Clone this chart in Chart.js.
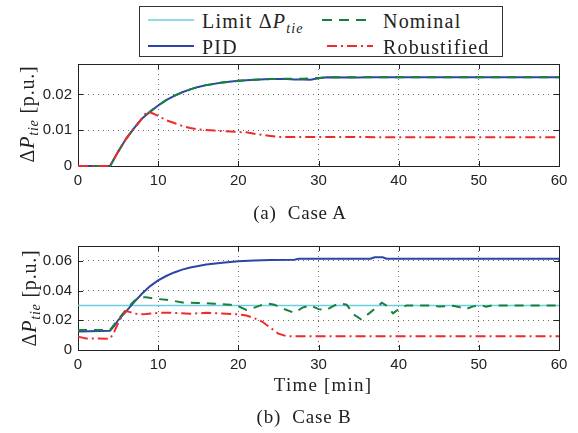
<!DOCTYPE html>
<html>
<head>
<meta charset="utf-8">
<script src="https://cdn.jsdelivr.net/npm/chart.js@4.4.1/dist/chart.umd.min.js"></script>
<style>
  body { margin: 0; background: #fff; width: 578px; height: 433px; position: relative; overflow: hidden;
         font-family: "Liberation Serif", serif; font-weight: 400; color: #222; }
  .abs { position: absolute; }
  canvas { position: absolute; left: 0; }
  .serif { font-family: "Liberation Serif", serif; font-weight: 400; }
  .ylab { position: absolute; white-space: nowrap; font-size: 20px; letter-spacing: 0.8px; transform: translate(-50%, -50%) rotate(-90deg); }
  .cap { position: absolute; white-space: nowrap; transform: translate(-50%, -50%); }
  sub { font-size: 0.7em; vertical-align: -0.35em; line-height: 0; }
  #legend { left: 139px; top: 6px; width: 362px; height: 49px; border: 1px solid #333; background: #fff; z-index: 2; font-size: 20px; }
  .item { position: absolute; white-space: nowrap; line-height: 1; transform: translateY(-50%); letter-spacing: 1.2px; }
  .sample { position: absolute; }
</style>
</head>
<body>

<canvas id="caseA" width="578" height="200" style="top:0"></canvas>
<canvas id="caseB" width="578" height="233" style="top:200px"></canvas>

<div id="legend" class="abs serif">
  <svg class="sample" style="left:8px;top:8px" width="48" height="10"><line x1="0" y1="5" x2="46" y2="5" stroke="#6ccfe0" stroke-width="1.5"/></svg>
  <div class="item serif" style="left:62px;top:14px">Limit &Delta;<i>P</i><sub><i>tie</i></sub></div>
  <svg class="sample" style="left:182px;top:8px" width="52" height="10"><line x1="0" y1="5" x2="50" y2="5" stroke="#17803d" stroke-width="2" stroke-dasharray="10 7"/></svg>
  <div class="item serif" style="left:243px;top:14px">Nominal</div>
  <svg class="sample" style="left:8px;top:34px" width="48" height="10"><line x1="0" y1="5" x2="46" y2="5" stroke="#2b46a6" stroke-width="2"/></svg>
  <div class="item serif" style="left:62px;top:40px">PID</div>
  <svg class="sample" style="left:187px;top:34px" width="48" height="10"><line x1="0" y1="5" x2="46" y2="5" stroke="#ee2a2a" stroke-width="2" stroke-dasharray="10 4 2 4"/></svg>
  <div class="item serif" style="left:243px;top:40px">Robustified</div>
</div>

<div class="ylab serif" style="left:27px;top:114px">&Delta;<i>P</i><sub><i>tie</i></sub> [p.u.]</div>
<div class="ylab serif" style="left:29px;top:298px">&Delta;<i>P</i><sub><i>tie</i></sub> [p.u.]</div>
<div class="cap serif" style="left:300px;top:213px;font-size:19px;letter-spacing:0.8px">(a)&nbsp; Case A</div>
<div class="cap serif" style="left:323px;top:385px;font-size:19px;letter-spacing:1.2px">Time [min]</div>
<div class="cap serif" style="left:304px;top:417px;font-size:19px;letter-spacing:0.8px">(b)&nbsp; Case B</div>

<script>
// tick labels
const xTicks = [0, 10, 20, 30, 40, 50, 60];
const yTicksA = [0, 0.01, 0.02];
const yTicksB = [0, 0.02, 0.04, 0.06];

// Case A
const tPidA = [0, 4, 5, 6, 7, 8, 9, 10, 11, 12, 13, 14, 15, 16, 18, 20, 22, 24, 26, 27, 28, 29, 30, 31, 35, 36, 40, 60];
const pidA  = [0, 0, 0.0040, 0.0076, 0.0106, 0.0133, 0.0152, 0.0169, 0.0184, 0.0196, 0.0206, 0.0214, 0.0221, 0.0226, 0.0233, 0.0238, 0.0241, 0.0243, 0.0243, 0.0242, 0.0242, 0.0241, 0.0245, 0.0248, 0.0247, 0.0248, 0.0248, 0.0248];
const tNomA = [0, 4, 5, 6, 7, 8, 9, 10, 11, 12, 13, 14, 15, 16, 18, 20, 22, 24, 26, 28, 30, 31, 35, 40, 60];
const nomA  = [0, 0, 0.0040, 0.0076, 0.0106, 0.0133, 0.0152, 0.0169, 0.0184, 0.0196, 0.0206, 0.0214, 0.0221, 0.0226, 0.0233, 0.0238, 0.0241, 0.0243, 0.0244, 0.0244, 0.0246, 0.0248, 0.0248, 0.0248, 0.0248];
const tRobA = [0, 4, 5, 6, 7, 8, 8.6, 9, 10, 11, 12, 13, 14, 15, 17, 20, 21, 22, 23, 24, 25, 60];
const robA  = [0, 0, 0.0040, 0.0076, 0.0106, 0.0133, 0.0152, 0.0150, 0.0140, 0.0128, 0.0120, 0.0112, 0.0106, 0.0102, 0.0099, 0.0095, 0.0094, 0.0090, 0.0087, 0.0084, 0.0081, 0.0080];

// Case B
const tLimB = [0, 60];
const limB  = [0.030, 0.030];
const tPidB = [0, 4, 4.5, 5, 5.5, 6, 7, 8, 9, 10, 11, 12, 13, 14, 15, 16, 18, 20, 22, 24, 27, 27.5, 36.5, 37, 38, 38.5, 60];
const pidB  = [0.0125, 0.0130, 0.0160, 0.0200, 0.0230, 0.0260, 0.0322, 0.0380, 0.0430, 0.0468, 0.0498, 0.0522, 0.0541, 0.0555, 0.0566, 0.0575, 0.0588, 0.0598, 0.0603, 0.0606, 0.0608, 0.0614, 0.0614, 0.0624, 0.0624, 0.0614, 0.0614];
const tNomB = [0, 4, 5, 6, 7, 7.7, 8.5, 10, 11, 12, 13, 14, 15, 17, 19, 20, 21, 22, 23, 23.7, 24.5, 25.5, 27, 28, 29, 30, 31, 32, 32.7, 33.5, 34.5, 35.3, 36.4, 37.2, 37.9, 38.5, 39.3, 40.1, 41, 44, 45, 46.8, 47.5, 48.3, 49.2, 50.1, 50.9, 51.7, 60];
const nomB  = [0.0135, 0.0135, 0.0205, 0.0272, 0.0330, 0.0355, 0.0355, 0.0343, 0.0338, 0.0330, 0.0320, 0.0318, 0.0316, 0.0312, 0.0305, 0.0295, 0.0270, 0.0285, 0.0305, 0.0312, 0.0305, 0.0280, 0.0250, 0.0285, 0.0300, 0.0275, 0.0270, 0.0300, 0.0314, 0.0305, 0.0235, 0.0207, 0.0250, 0.0285, 0.0318, 0.0298, 0.0247, 0.0280, 0.0300, 0.0300, 0.0293, 0.0297, 0.0290, 0.0274, 0.0292, 0.0302, 0.0292, 0.0300, 0.0300];
const tRobB = [0, 1, 4, 4.5, 5, 5.5, 6, 6.5, 7.5, 8.5, 10, 12, 14, 16, 18, 20, 21, 22, 23, 24, 25, 26, 60];
const robB  = [0.0090, 0.0078, 0.0076, 0.0120, 0.0180, 0.0230, 0.0262, 0.0255, 0.0240, 0.0242, 0.0250, 0.0250, 0.0244, 0.0250, 0.0245, 0.0240, 0.0232, 0.0214, 0.0190, 0.0150, 0.0110, 0.0093, 0.0093];

const COLORS = { limit: '#6ccfe0', pid: '#2b46a6', nominal: '#17803d', robust: '#ee2a2a' };

const pts = (ts, vs) => ts.map((t, i) => ({ x: t, y: vs[i] }));

// box round the plot with inward ticks, like matlab
const framePlugin = {
  id: 'frame',
  beforeDatasetsDraw(chart) {
    const { ctx, chartArea: a, scales } = chart;
    ctx.save();
    ctx.strokeStyle = '#222';
    ctx.lineWidth = 1;
    ctx.strokeRect(Math.round(a.left) + 0.5, Math.round(a.top) + 0.5, Math.round(a.right - a.left), Math.round(a.bottom - a.top));
    ctx.beginPath();
    scales.x.ticks.forEach(t => {
      const px = Math.round(scales.x.getPixelForValue(t.value)) + 0.5;
      ctx.moveTo(px, a.bottom); ctx.lineTo(px, a.bottom - 5);
      ctx.moveTo(px, a.top); ctx.lineTo(px, a.top + 5);
    });
    scales.y.ticks.forEach(t => {
      const py = Math.round(scales.y.getPixelForValue(t.value)) + 0.5;
      ctx.moveTo(a.left, py); ctx.lineTo(a.left + 5, py);
      ctx.moveTo(a.right, py); ctx.lineTo(a.right - 5, py);
    });
    ctx.stroke();
    ctx.restore();
  }
};

function lineSet(data, color, dash, order, width) {
  return { data, borderColor: color, borderWidth: width || 2, borderDash: dash, pointRadius: 0, tension: 0, fill: false, order, clip: false };
}

function makeOpts(yMax, yTicks, pad, xHeight) {
  return {
    responsive: false,
    animation: false,
    devicePixelRatio: 1,
    layout: { padding: pad },
    plugins: { legend: { display: false }, tooltip: { enabled: false } },
    scales: {
      x: {
        type: 'linear', min: 0, max: 60,
        afterBuildTicks: s => { s.ticks = xTicks.map(v => ({ value: v })); },
        afterFit: s => { s.height = xHeight; },
        grid: { color: 'rgba(40,40,40,0.7)', lineWidth: 1, drawTicks: false },
        border: { display: false, dash: [1, 4] },
        ticks: { padding: 6, color: '#222', font: { family: '"Liberation Sans", Arial, sans-serif', size: 15 }, maxRotation: 0 }
      },
      y: {
        type: 'linear', min: 0, max: yMax,
        afterBuildTicks: s => { s.ticks = yTicks.map(v => ({ value: v })); },
        afterFit: s => { s.width = 78; },
        grid: { color: 'rgba(40,40,40,0.7)', lineWidth: 1, drawTicks: false },
        border: { display: false, dash: [1, 4] },
        ticks: { padding: 6, color: '#222', font: { family: '"Liberation Sans", Arial, sans-serif', size: 15 },
                 callback: v => v === 0 ? '0' : v.toFixed(2) }
      }
    }
  };
}

new Chart(document.getElementById('caseA'), {
  type: 'line',
  data: {
    datasets: [
      lineSet(pts(tRobA, robA), COLORS.robust, [10, 4, 2, 4], 0),
      lineSet(pts(tNomA, nomA), COLORS.nominal, [9, 7], 1),
      lineSet(pts(tPidA, pidA), COLORS.pid, [], 2)
    ]
  },
  options: makeOpts(0.0285, yTicksA, { top: 64, right: 19, left: 0, bottom: 0 }, 34),
  plugins: [framePlugin]
});

new Chart(document.getElementById('caseB'), {
  type: 'line',
  data: {
    datasets: [
      lineSet(pts(tRobB, robB), COLORS.robust, [10, 4, 2, 4], 0),
      lineSet(pts(tNomB, nomB), COLORS.nominal, [9, 7], 1),
      lineSet(pts(tPidB, pidB), COLORS.pid, [], 2),
      lineSet(pts(tLimB, limB), COLORS.limit, [], 3, 1.5)
    ]
  },
  options: makeOpts(0.07, yTicksB, { top: 46, right: 19, left: 0, bottom: 63 }, 20),
  plugins: [framePlugin]
});
</script>
</body>
</html>
